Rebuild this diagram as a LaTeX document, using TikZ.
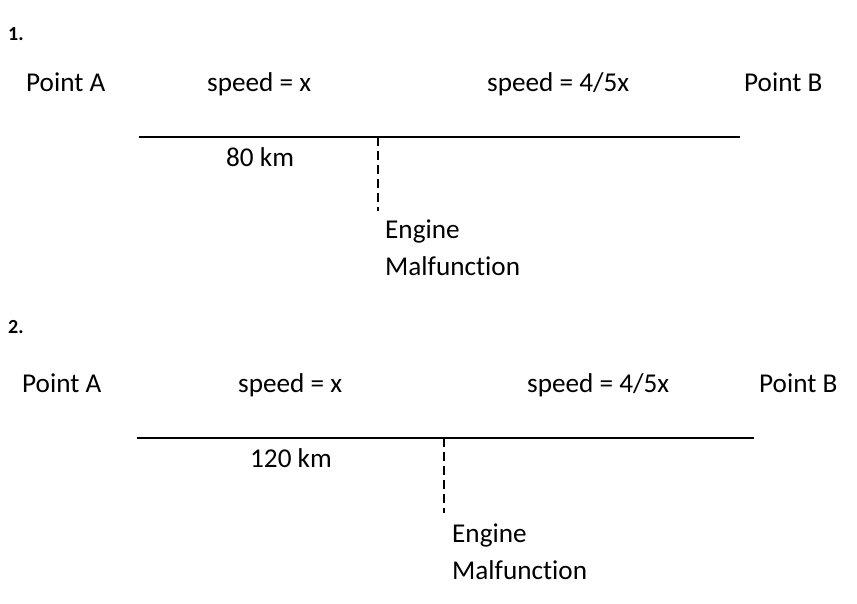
\documentclass[tikz,border=0pt]{standalone}
\usepackage{fontspec}
\setmainfont{Carlito}[Ligatures={TeX,CommonOff}]
\usetikzlibrary{positioning}

\begin{document}
\begin{tikzpicture}[x=1pt,y=-1pt,
  txt/.style={font=\fontsize{27.2}{32}\selectfont,inner sep=0pt,anchor=base west},
  num/.style={font=\fontsize{20}{24}\selectfont\bfseries,inner sep=0pt,anchor=base west},
  road/.style={line width=2.6pt},
  halt/.style={line width=1.9pt,dash pattern=on 9pt off 5pt}]
\useasboundingbox (0,0) rectangle (857,603);

% Case 1
\begin{scope}
\node[num] (n1) at (8,40) {1.};
\node[txt] (a1) at (26,91) {Point A};
\node[txt] (v1) at (207,91) {speed = x};
\node[txt] (w1) at (487,91) {speed = 4/5x};
\node[txt] (b1) at (744,91) {Point B};
\coordinate (s1) at (139,137);
\coordinate (e1) at (740,137);
\coordinate (m1) at (378,137);
\coordinate (f1) at (378,211);
\draw[road] (s1) -- (e1);
\draw[halt] (m1) -- (f1);
\node[txt] (d1) at (226,166) {80 km};
\node[txt] (en1) at (385,238) {Engine};
\node[txt] (mf1) at (385,275) {Malfunction};
\end{scope}

% Case 2
\begin{scope}
\node[num] (n2) at (8,333) {2.};
\node[txt] (a2) at (22,392) {Point A};
\node[txt] (v2) at (238,392) {speed = x};
\node[txt] (w2) at (527,392) {speed = 4/5x};
\node[txt] (b2) at (759,392) {Point B};
\coordinate (s2) at (137,438);
\coordinate (e2) at (754,438);
\coordinate (m2) at (444,438);
\coordinate (f2) at (444,513);
\draw[road] (s2) -- (e2);
\draw[halt] (m2) -- (f2);
\node[txt] (d2) at (250,467) {120 km};
\node[txt] (en2) at (452,542) {Engine};
\node[txt] (mf2) at (452,579) {Malfunction};
\end{scope}
\end{tikzpicture}
\end{document}
